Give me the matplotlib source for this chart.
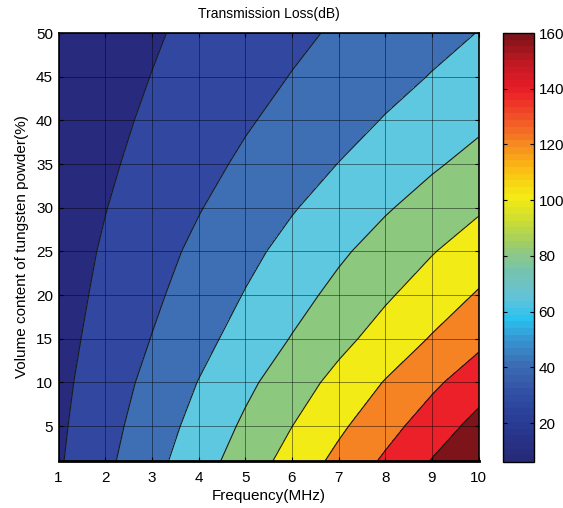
import numpy as np
import matplotlib
matplotlib.use('Agg')
import matplotlib.pyplot as plt
from matplotlib.colors import LinearSegmentedColormap, ListedColormap, Normalize
from matplotlib.cm import ScalarMappable

plt.rcParams['font.family'] = ['Liberation Sans', 'DejaVu Sans']

# frequency (MHz) across, tungsten volume content (%) down the rows
frequency = [1, 2, 3, 4, 5, 6, 7, 8, 9, 10]
volume = [1, 5, 10, 15, 20, 25, 30, 35, 40, 45, 50]

# transmission loss (dB), one row per volume value
loss_db = [
    [17.9, 35.8, 53.6, 71.5, 89.4, 107.3, 125.2, 143.0, 160.9, 178.8],
    [16.6, 33.3, 49.9, 66.5, 83.2, 99.8, 116.4, 133.0, 149.7, 166.3],
    [15.1, 30.2, 45.4, 60.5, 75.6, 90.7, 105.8, 121.0, 136.1, 151.2],
    [13.5, 27.0, 40.5, 54.0, 67.5, 80.9, 94.4, 107.9, 121.4, 134.9],
    [12.2, 24.3, 36.5, 48.7, 60.9, 73.0, 85.2, 97.4, 109.5, 121.7],
    [11.0, 22.0, 33.0, 44.0, 55.0, 65.9, 76.9, 87.9, 98.9, 109.9],
    [9.8, 19.5, 29.3, 39.0, 48.8, 58.6, 68.3, 78.1, 87.8, 97.6],
    [8.6, 17.2, 25.8, 34.4, 43.1, 51.7, 60.3, 68.9, 77.5, 86.1],
    [7.6, 15.2, 22.9, 30.5, 38.1, 45.7, 53.3, 61.0, 68.6, 76.2],
    [6.8, 13.5, 20.3, 27.0, 33.8, 40.6, 47.3, 54.1, 60.8, 67.6],
    [6.0, 12.1, 18.1, 24.2, 30.2, 36.2, 42.3, 48.3, 54.4, 60.4],
]

contour_levels = [20, 40, 60, 80, 100, 120, 140, 160]
cbar_ticks = [20, 40, 60, 80, 100, 120, 140, 160]

# printed-looking jet, sampled from the colour bar
anchors = [
    (6, (38, 42, 120)), (20, (42, 60, 150)), (30, (50, 80, 165)),
    (40, (60, 110, 180)), (50, (55, 150, 210)), (57, (40, 195, 240)),
    (65, (100, 195, 215)), (75, (120, 195, 170)), (85, (160, 205, 100)),
    (95, (215, 225, 40)), (102, (245, 235, 20)), (112, (250, 185, 20)),
    (122, (245, 130, 35)), (132, (240, 75, 40)), (140, (235, 30, 40)),
    (150, (195, 25, 35)), (160, (125, 20, 25)),
]
band_colors = ['#282a7d', '#3248a0', '#3e6eb4', '#5fc8e1', '#8cc87d',
               '#f3eb16', '#f58223', '#eb2028', '#7d1419']

Z = np.array(loss_db)
vmin, vmax = Z.min(), 160
pos = [(a[0] - vmin) / (vmax - vmin) for a in anchors]
pos[0], pos[-1] = 0.0, 1.0
cols = [tuple(c / 255 for c in a[1]) for a in anchors]
smooth = LinearSegmentedColormap.from_list('printjet', list(zip(pos, cols)))
cmap = ListedColormap(smooth(np.linspace(0, 1, 64)))

fig = plt.figure(figsize=(5.63, 5.08), dpi=100)
ax = fig.add_axes([0.104, 0.0925, 0.746, 0.8425])
cax = fig.add_axes([0.894, 0.0905, 0.055, 0.8445])

levels = [Z.min()] + contour_levels + [Z.max() + 1]
ax.contourf(frequency, volume, Z, levels=levels, colors=band_colors)
ax.contour(frequency, volume, Z, levels=contour_levels, colors='#1a1a1a', linewidths=0.8)

ax.set_xlim(1, 10)
ax.set_ylim(1, 50)
ax.set_xticks(range(1, 11))
ax.set_yticks(range(5, 51, 5))
ax.grid(True, color='k', alpha=0.45, lw=0.7)
ax.set_axisbelow(False)
ax.tick_params(direction='in', top=True, right=True, labelsize=11, length=3)
ax.tick_params(axis='x', pad=7)
ax.tick_params(axis='y', pad=4)
for s in ax.spines.values():
    s.set_linewidth(1.2)
ax.spines['bottom'].set_linewidth(2)

ax.set_xlabel('Frequency(MHz)', fontsize=11, labelpad=3)
ax.set_ylabel('Volume content of tungsten powder(%)', fontsize=11, labelpad=5)
ax.set_title('Transmission Loss(dB)', fontsize=10, pad=11)

sm = ScalarMappable(norm=Normalize(vmin, vmax), cmap=cmap)
cb = fig.colorbar(sm, cax=cax, ticks=cbar_ticks)
cb.ax.tick_params(direction='in', left=True, right=True, labelsize=11, length=3, pad=3)
cb.outline.set_linewidth(1.0)

fig.savefig('out.png', dpi=100)
